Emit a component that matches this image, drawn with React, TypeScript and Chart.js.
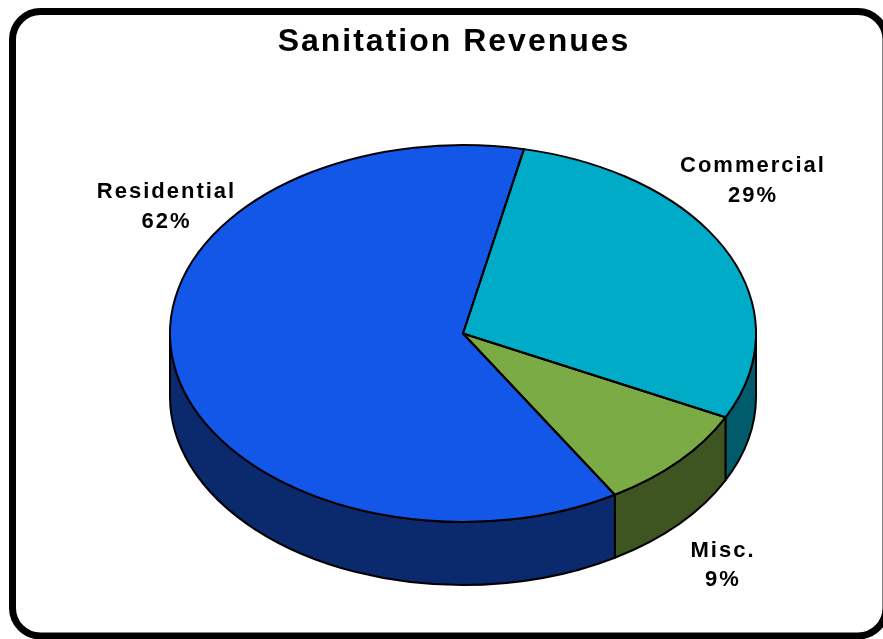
import { useEffect, useRef } from "react";
import { Chart, registerables } from "chart.js";

Chart.register(...registerables);

// ---- data ----
const categories = ["Commercial", "Misc.", "Residential"];
const values = [29, 9, 62];
const startRotation = 12; // degrees clockwise from 12 o'clock where the first slice starts

// ---- styles ----
const topColors = ["#00ABC7", "#7AAB44", "#1357E8"];
const sideColors = ["#005B6A", "#3E5522", "#0B2A6E"];
const FONT = "'Liberation Sans', Arial, Helvetica, sans-serif";

// screen geometry of the 3D pie (ellipse) and label anchors
const CX = 463;
const CY = 333.5;
const RX = 293;
const RY = 188.5;
const DEPTH = 63;
const labelAnchors = [
  { x: 752, y1: 172, y2: 202 },
  { x: 722, y1: 557, y2: 586 },
  { x: 165.5, y1: 198, y2: 228 },
];

const total = values.reduce((a, b) => a + b, 0);
const percentLabels = values.map((v) => Math.round((v / total) * 100) + "%");

const pie3d = {
  id: "pie3d",
  beforeDraw(chart: any) {
    const ctx = chart.ctx as CanvasRenderingContext2D;
    ctx.save();
    ctx.fillStyle = "#ffffff";
    ctx.fillRect(0, 0, chart.width, chart.height);
    ctx.strokeStyle = "#000000";
    ctx.lineWidth = 7;
    ctx.beginPath();
    (ctx as any).roundRect(12.5, 11.5, 886 - 12.5, 636 - 11.5, 28);
    ctx.stroke();
    ctx.restore();
    (ctx as any).letterSpacing = "2px"; // for title
  },
  beforeDatasetsDraw(chart: any) {
    const ctx = chart.ctx as CanvasRenderingContext2D;
    (ctx as any).letterSpacing = "0px";
    const arcs = chart.getDatasetMeta(0).data;
    // side walls (front half only)
    ctx.save();
    ctx.lineWidth = 2;
    ctx.lineJoin = "round";
    ctx.strokeStyle = "#000";
    arcs.forEach((arc: any, i: number) => {
      const s = arc.startAngle;
      const e = arc.endAngle;
      for (const k of [-2, 0, 2]) {
        const lo = Math.max(s, k * Math.PI);
        const hi = Math.min(e, k * Math.PI + Math.PI);
        if (hi > lo) {
          ctx.beginPath();
          ctx.ellipse(CX, CY, RX, RY, 0, lo, hi);
          ctx.lineTo(CX + RX * Math.cos(hi), CY + DEPTH + RY * Math.sin(hi));
          ctx.ellipse(CX, CY + DEPTH, RX, RY, 0, hi, lo, true);
          ctx.closePath();
          ctx.fillStyle = sideColors[i];
          ctx.fill();
          ctx.stroke();
        }
      }
    });
    ctx.restore();
    // map the library's circular pie onto the tilted ellipse
    const a0 = arcs[0];
    const R = a0.outerRadius;
    ctx.save();
    ctx.translate(CX, CY);
    ctx.scale(RX / R, RY / R);
    ctx.translate(-a0.x, -a0.y);
  },
  afterDatasetsDraw(chart: any) {
    const ctx = chart.ctx as CanvasRenderingContext2D;
    ctx.restore();
    const arcs = chart.getDatasetMeta(0).data;
    ctx.save();
    ctx.lineWidth = 2;
    ctx.lineJoin = "round";
    ctx.strokeStyle = "#000";
    arcs.forEach((arc: any) => {
      ctx.beginPath();
      ctx.moveTo(CX, CY);
      ctx.ellipse(CX, CY, RX, RY, 0, arc.startAngle, arc.endAngle);
      ctx.closePath();
      ctx.stroke();
    });
    ctx.restore();
  },
  afterDraw(chart: any) {
    const ctx = chart.ctx as CanvasRenderingContext2D;
    ctx.save();
    const ls = 2;
    (ctx as any).letterSpacing = ls + "px";
    ctx.font = `bold 22px ${FONT}`;
    ctx.fillStyle = "#000";
    ctx.textAlign = "center";
    ctx.textBaseline = "alphabetic";
    categories.forEach((c, i) => {
      const p = labelAnchors[i];
      ctx.fillText(c, p.x + ls / 2, p.y1);
      ctx.fillText(percentLabels[i], p.x + ls / 2, p.y2);
    });
    ctx.restore();
  },
};

export default function App() {
  const ref = useRef<HTMLCanvasElement | null>(null);
  useEffect(() => {
    if (!ref.current) return;
    const chart = new Chart(ref.current, {
      type: "pie",
      data: {
        labels: categories,
        datasets: [
          {
            data: values,
            backgroundColor: topColors,
            borderWidth: 0,
            clip: false as any,
          },
        ],
      },
      options: {
        responsive: false,
        animation: false,
        devicePixelRatio: 1,
        events: [],
        rotation: startRotation,
        layout: { padding: { left: 25, right: 0, top: 0, bottom: 10 } },
        plugins: {
          legend: { display: false },
          tooltip: { enabled: false },
          title: {
            display: true,
            text: "Sanitation Revenues",
            color: "#000",
            font: { family: FONT, size: 32, weight: "bold" },
            padding: { top: 23, bottom: 10 },
          },
        },
      },
      plugins: [pie3d],
    });
    return () => chart.destroy();
  }, []);
  return (
    <div style={{ position: "absolute", left: 0, top: 0, width: 883, height: 639 }}>
      <canvas ref={ref} width={883} height={639} />
    </div>
  );
}
